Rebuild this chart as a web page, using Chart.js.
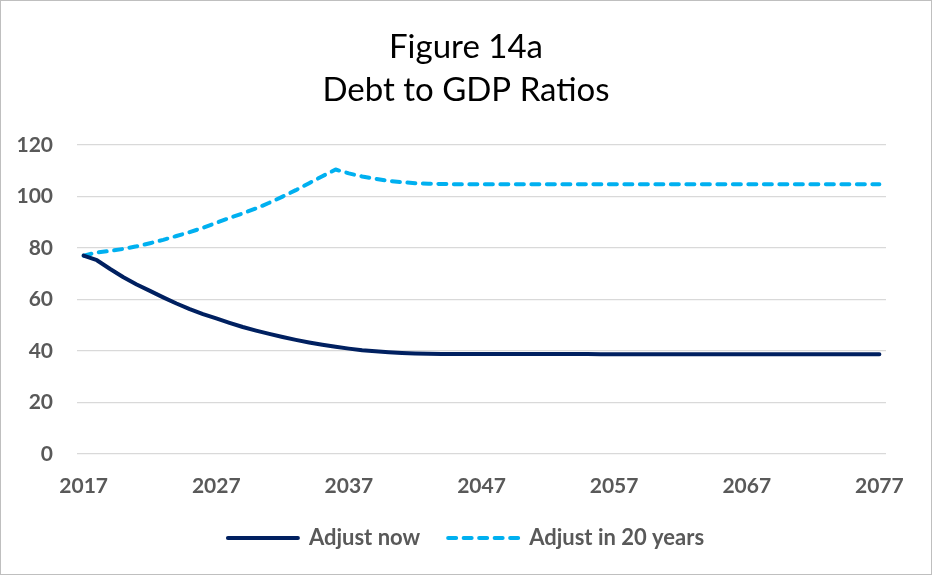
<!DOCTYPE html>
<html>
<head>
<meta charset="utf-8">
<script src="https://cdn.jsdelivr.net/npm/chart.js@4"></script>
<style>
  body { margin: 0; background: #fff; }
  .frame { width: 932px; height: 575px; box-sizing: border-box; border: 1px solid #bfbfbf; }
  canvas { display: block; }
</style>
</head>
<body>
<div class="frame"><canvas id="debtChart" width="930" height="573"></canvas></div>
<script>
const years = [
  '2017','2018','2019','2020','2021','2022','2023','2024','2025','2026',
  '2027','2028','2029','2030','2031','2032','2033','2034','2035','2036',
  '2037','2038','2039','2040','2041','2042','2043','2044','2045','2046',
  '2047','2048','2049','2050','2051','2052','2053','2054','2055','2056',
  '2057','2058','2059','2060','2061','2062','2063','2064','2065','2066',
  '2067','2068','2069','2070','2071','2072','2073','2074','2075','2076',
  '2077'
];

const adjustNow = [
  77.0, 75.2, 71.8, 68.6, 65.8, 63.3, 60.8, 58.4, 56.2, 54.3,
  52.6, 50.9, 49.3, 47.9, 46.6, 45.4, 44.3, 43.3, 42.4, 41.6,
  40.9, 40.3, 39.9, 39.5, 39.2, 39.0, 38.9, 38.8, 38.8, 38.8,
  38.8, 38.8, 38.8, 38.8, 38.8, 38.8, 38.8, 38.8, 38.8, 38.7,
  38.7, 38.7, 38.7, 38.7, 38.7, 38.7, 38.7, 38.7, 38.7, 38.7,
  38.7, 38.7, 38.7, 38.7, 38.7, 38.7, 38.7, 38.7, 38.7, 38.7,
  38.7
];

const adjustIn20 = [
  77.0, 78.2, 78.8, 79.6, 80.6, 81.8, 83.1, 84.6, 86.1, 87.8,
  89.7, 91.6, 93.4, 95.3, 97.5, 99.9, 102.4, 105.1, 107.8, 110.4,
  108.9, 107.7, 106.8, 106.0, 105.5, 105.1, 104.9, 104.8, 104.7, 104.7,
  104.7, 104.7, 104.7, 104.7, 104.7, 104.7, 104.7, 104.7, 104.7, 104.7,
  104.7, 104.7, 104.7, 104.7, 104.7, 104.7, 104.7, 104.7, 104.7, 104.7,
  104.7, 104.7, 104.7, 104.7, 104.7, 104.7, 104.7, 104.7, 104.7, 104.7,
  104.7
];

const titleLines = ['Figure 14a', 'Debt to GDP Ratios'];
const seriesNames = ['Adjust now', 'Adjust in 20 years'];

const tickColor = '#595959';
const tickFont = { family: 'Lato', size: 21, weight: 'bold' };

const ctx = document.getElementById('debtChart').getContext('2d');
const debtChart = new Chart(ctx, {
  type: 'line',
  data: {
    labels: years,
    datasets: [{
      label: seriesNames[0],
      data: adjustNow,
      borderColor: '#002060',
      backgroundColor: '#002060',
      borderWidth: 4,
      pointRadius: 0,
      tension: 0,
      borderCapStyle: 'round',
      borderJoinStyle: 'round'
    }, {
      label: seriesNames[1],
      data: adjustIn20,
      borderColor: '#00B0F0',
      backgroundColor: '#00B0F0',
      borderWidth: 4,
      borderDash: [8, 7.5],
      borderCapStyle: 'round',
      borderJoinStyle: 'round',
      pointRadius: 0,
      tension: 0
    }]
  },
  options: {
    responsive: false,
    animation: false,
    layout: { padding: { left: 0, right: 0, top: 0, bottom: 15 } },
    plugins: {
      title: {
        display: true,
        text: titleLines,
        color: '#000',
        font: { family: 'Lato', size: 33, weight: 'normal', lineHeight: 1.3 },
        padding: { top: 25, bottom: 33 }
      },
      legend: {
        position: 'bottom',
        labels: {
          usePointStyle: true,
          pointStyle: 'line',
          pointStyleWidth: 70,
          color: tickColor,
          font: { family: 'Lato', size: 22, weight: 'bold' },
          padding: 28,
          // point style legend ignores the dataset dash, put it back
          generateLabels: function(chart) {
            const items = Chart.defaults.plugins.legend.labels.generateLabels(chart);
            items.forEach(function(item) {
              const ds = chart.data.datasets[item.datasetIndex];
              item.lineDash = ds.borderDash || [];
              item.lineCap = 'round';
              item.lineWidth = ds.borderWidth;
            });
            return items;
          }
        }
      },
      tooltip: { enabled: false }
    },
    scales: {
      x: {
        type: 'category',
        offset: true,
        grid: { display: false, drawTicks: false },
        border: { display: false },
        ticks: {
          autoSkip: false,
          maxRotation: 0,
          color: tickColor,
          font: tickFont,
          padding: 20,
          callback: function(val, i) { return i % 10 === 0 ? years[i] : ''; }
        },
        afterFit: function(s) { s.height = 45; }
      },
      y: {
        min: 0,
        max: 120,
        grid: { color: '#d9d9d9', lineWidth: 1.3, drawTicks: false },
        border: { display: false },
        ticks: {
          stepSize: 20,
          color: tickColor,
          font: tickFont,
          padding: 24
        },
        afterFit: function(s) { s.width = 76; }
      },
      // empty right-hand axis, only keeps the right margin of the plot
      yRight: {
        position: 'right',
        display: true,
        grid: { display: false },
        border: { display: false },
        ticks: { display: false },
        afterFit: function(s) { s.width = 45; }
      }
    }
  }
});
</script>
</body>
</html>
